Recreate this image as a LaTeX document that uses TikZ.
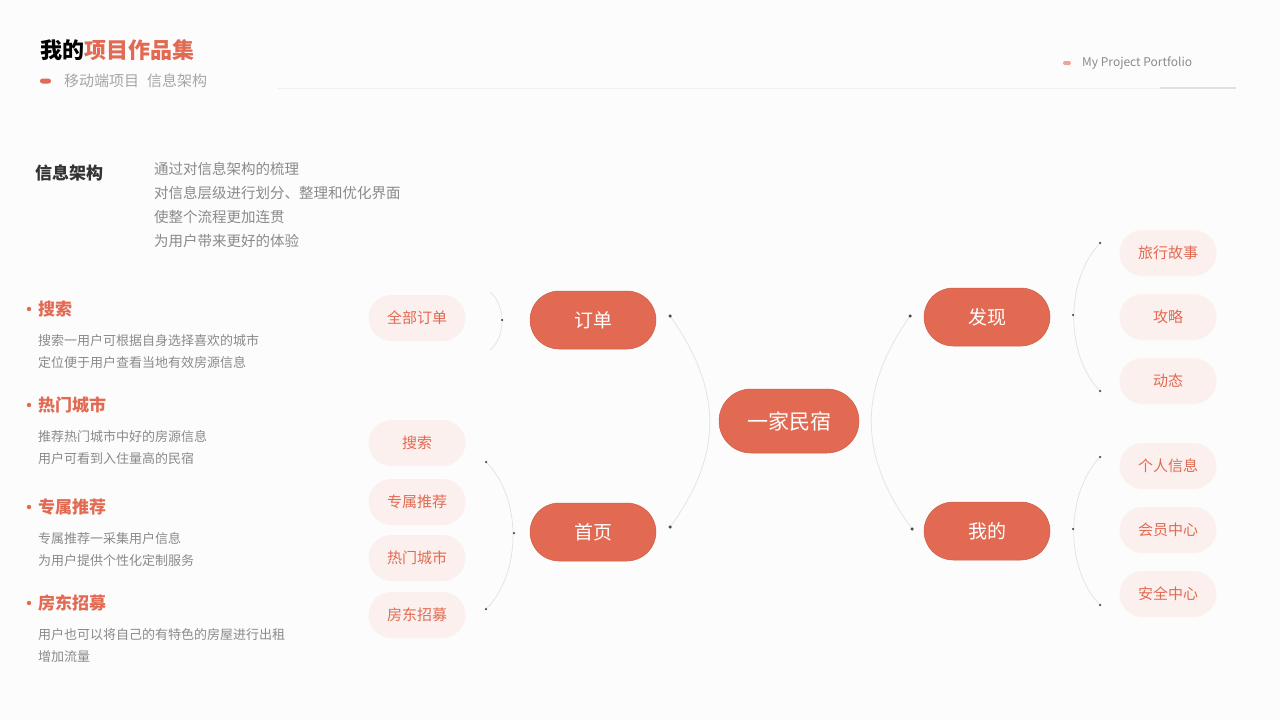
\documentclass[tikz,border=0pt]{standalone}
\usepackage{fontspec}
\setmainfont{Noto Sans CJK SC}
\newfontfamily\cjkb{Noto Sans CJK SC Bold}
\definecolor{org}{HTML}{E26A53}
\definecolor{pnk}{HTML}{FBF0EE}
\definecolor{gtx}{HTML}{8A8A8A}
\definecolor{arc}{HTML}{E2E2E2}
\begin{document}
\begin{tikzpicture}[x=1pt,y=-1pt,
 main/.style={fill=org,draw=org!90!black,line width=0.5pt,rounded corners=29pt,minimum width=126pt,minimum height=58pt,text=white,font=\fontsize{19}{19}\selectfont,inner sep=0},
 leaf/.style={fill=pnk,rounded corners=23pt,minimum width=97pt,minimum height=46pt,text=org,font=\fontsize{15}{15}\selectfont,inner sep=0},
 arcl/.style={draw=arc,line width=0.7pt},
 dotc/.style={circle,fill=black!70,inner sep=0,minimum size=3.5pt},
 dots/.style={circle,fill=black!70,inner sep=0,minimum size=2.5pt},
 head/.style={font=\fontsize{17}{17}\selectfont\bfseries,text=org,anchor=west,inner sep=0},
 desc/.style={font=\fontsize{13}{22}\selectfont,text=gtx,anchor=north west,align=left,inner sep=0}]
\fill[white!98!gray] (0,0) rectangle (1280,720);
\useasboundingbox (0,0) rectangle (1280,720);
% header
\node[anchor=west,inner sep=0,font=\fontsize{22}{22}\selectfont\bfseries] (title) at (40,50) {我的\textcolor{org}{项目作品集}};
\fill[org,rounded corners=2.5pt] (40,78.5) rectangle (51,83.5);
\node[anchor=west,inner sep=0,text=black!35,font=\fontsize{15}{15}\selectfont] (sub) at (64,81) {移动端项目\hspace{8pt}信息架构};
\draw[black!6,line width=0.8pt] (278,88) -- (1236,88);
\draw[black!12,line width=1.5pt] (1160,88) -- (1236,88);
\fill[org!60,rounded corners=2pt] (1063,61) rectangle (1071,65);
\node[anchor=west,inner sep=0,text=gtx,font=\fontsize{12}{12}\selectfont] (eng) at (1082,63) {My Project Portfolio};
% intro
\node[anchor=west,inner sep=0,font=\fontsize{17}{17}\selectfont\bfseries,text=black!80] (ia) at (35,173) {信息架构};
\node[desc,font=\fontsize{14.5}{24}\selectfont] (iat) at (154,162) {通过对信息架构的梳理\\对信息层级进行划分、整理和优化界面\\使整个流程更加连贯\\为用户带来更好的体验};
% left list
\foreach \y/\h/\t [count=\i] in {309/搜索/{搜索一用户可根据自身选择喜欢的城市\\定位便于用户查看当地有效房源信息},405/热门城市/{推荐热门城市中好的房源信息\\用户可看到入住量高的民宿},507/专属推荐/{专属推荐一采集用户信息\\为用户提供个性化定制服务},603/房东招募/{用户也可以将自己的有特色的房屋进行出租\\增加流量}}{
 \fill[org] (29,\y) circle (2.2pt);
 \node[head] (h\i) at (38,\y) {\h};
 \node[desc] (d\i) at (38,\y+25) {\t};
}
% main nodes
\node[main,minimum width=140pt,minimum height=64pt,rounded corners=32pt,font=\fontsize{21}{21}\selectfont] (root) at (789,421) {一家民宿};
\node[main] (dd) at (593,320) {订单};
\node[main] (sy) at (593,532) {首页};
\node[main] (fx) at (987,317) {发现};
\node[main] (wd) at (987,531) {我的};
% leaves
\node[leaf] (qb) at (417,318) {全部订单};
\node[leaf] (ss) at (417,443) {搜索};
\node[leaf] (zs) at (417,502) {专属推荐};
\node[leaf] (rm) at (417,558) {热门城市};
\node[leaf] (fd) at (417,615) {房东招募};
\node[leaf] (lx) at (1168,253) {旅行故事};
\node[leaf] (gl) at (1168,317) {攻略};
\node[leaf] (dt) at (1168,381) {动态};
\node[leaf] (gr) at (1168,466) {个人信息};
\node[leaf] (hy) at (1168,530) {会员中心};
\node[leaf] (aq) at (1168,594) {安全中心};
% arcs
\coordinate (a1) at (670,316); \coordinate (a2) at (670,527);
\draw[arcl] (a1) .. controls (723,390) and (723,455) .. (a2);
\coordinate (b1) at (910,316); \coordinate (b2) at (912,529);
\draw[arcl] (b1) .. controls (858,390) and (858,455) .. (b2);
\coordinate (c1) at (1100,243); \coordinate (c2) at (1100,391); \coordinate (cm) at (1073,315);
\draw[arcl] (c1) .. controls (1065,280) and (1065,355) .. (c2);
\coordinate (e1) at (1100,457); \coordinate (e2) at (1100,605); \coordinate (em) at (1073,529);
\draw[arcl] (e1) .. controls (1065,494) and (1065,569) .. (e2);
\coordinate (f1) at (486,462); \coordinate (f2) at (486,609); \coordinate (fm) at (514,533);
\draw[arcl] (f1) .. controls (522,497) and (522,574) .. (f2);
\coordinate (g1) at (490,292); \coordinate (g2) at (490,350); \coordinate (gm) at (502,320);
\draw[arcl] (g1) .. controls (506,305) and (506,337) .. (g2);
\foreach \p in {a1,a2,b1,b2}{\node[dotc] at (\p) {};}
\foreach \p in {c1,c2,cm,e1,e2,em,f1,f2,fm,gm}{\node[dots] at (\p) {};}
\end{tikzpicture}
\end{document}
